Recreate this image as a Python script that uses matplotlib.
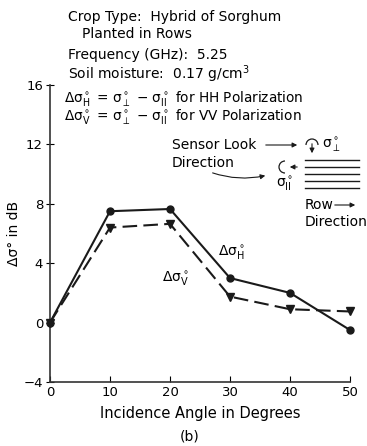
import matplotlib
matplotlib.use("Agg")
import matplotlib.pyplot as plt
from matplotlib.patches import Arc, FancyArrowPatch

plt.rcParams["font.family"] = ["Liberation Sans Narrow", "DejaVu Sans"]
plt.rcParams["mathtext.fontset"] = "dejavusans"

# incidence angle (deg) and backscatter difference (dB)
angles = [0, 10, 20, 30, 40, 50]
delta_hh = [0.0, 7.5, 7.65, 3.0, 2.0, -0.5]
delta_vv = [0.0, 6.4, 6.65, 1.75, 0.9, 0.75]

x_ticks = [0, 10, 20, 30, 40, 50]
y_ticks = [-4, 0, 4, 8, 12, 16]

W, H = 367, 446
fig = plt.figure(figsize=(W / 100, H / 100), dpi=100)
ax = fig.add_axes([50 / W, 1 - 382 / H, 300 / W, 297 / H])


def px(x, y):
    # top-left pixel position -> figure fraction
    return (x / W, 1 - y / H)


ax.plot(angles, delta_hh, "-", color="#1a1a1a", lw=1.5, marker="o", ms=5,
        clip_on=False, zorder=3)
ax.plot(angles, delta_vv, "-", color="#1a1a1a", lw=1.5, marker="v", ms=5.5,
        dashes=(7, 3), clip_on=False, zorder=3)

ax.set_xlim(0, 50)
ax.set_ylim(-4, 16)
ax.set_xticks(x_ticks)
ax.set_yticks(y_ticks)
for s in ("top", "right"):
    ax.spines[s].set_visible(False)
for s in ("left", "bottom"):
    ax.spines[s].set_linewidth(1.2)
    ax.spines[s].set_color("#333333")
ax.tick_params(axis="x", direction="in", length=4, labelsize=9.5, pad=3)
ax.tick_params(axis="y", direction="inout", length=6, labelsize=9.5, pad=2)

ax.set_ylabel("Δσ° in dB", fontsize=10, labelpad=2)
ax.set_xlabel("Incidence Angle in Degrees", fontsize=10.5, labelpad=5)
fig.text(*px(190, 437), "(b)", fontsize=10, ha="center", va="center")

tk = dict(fontsize=10, ha="left", va="center", transform=fig.transFigure)
fig.text(*px(68, 17), "Crop Type:  Hybrid of Sorghum", **tk)
fig.text(*px(82, 34), "Planted in Rows", **tk)
fig.text(*px(68, 55), "Frequency (GHz):  5.25", **tk)
fig.text(*px(68, 74), r"Soil moisture:  0.17 g/cm$^\mathregular{3}$", **tk)
sub_h = r"$_\mathregular{H}^\circ$"
sub_v = r"$_\mathregular{V}^\circ$"
perp = r"$_\perp^\circ$"
par = r"$_\mathregular{II}^\circ$"
sm = dict(tk, fontsize=9.8)
fig.text(*px(64, 98), "Δσ" + sub_h + " = σ" + perp + " − σ" + par
         + " for HH Polarization", **sm)
fig.text(*px(64, 117), "Δσ" + sub_v + " = σ" + perp + " − σ" + par
         + " for VV Polarization", **sm)

# curve labels
fig.text(*px(218, 253), "Δσ" + sub_h, **tk)
fig.text(*px(162, 279), "Δσ" + sub_v, **tk)

# sensor look / row direction sketch
fig.text(*px(172, 145), "Sensor Look", **tk)
fig.text(*px(172, 163), "Direction", **tk)
fig.text(*px(322, 145), "σ" + perp, **tk)
fig.text(*px(276, 184), "σ" + par, **tk)
fig.text(*px(305, 205), "Row", **tk)
fig.text(*px(305, 222), "Direction", **tk)

arr = dict(arrowstyle="-|>", mutation_scale=7, lw=0.8, color="#1a1a1a",
           transform=fig.transFigure)
fig.patches.append(FancyArrowPatch(px(263, 145), px(300, 145), **arr))
fig.patches.append(FancyArrowPatch(px(210, 172), px(268, 175),
                                   connectionstyle="arc3,rad=0.15", **arr))
fig.patches.append(FancyArrowPatch(px(312, 141), px(312, 156), **arr))
fig.patches.append(FancyArrowPatch(px(300, 167), px(287, 167), **arr))
fig.patches.append(FancyArrowPatch(px(332, 205), px(358, 205), **arr))
fig.patches.append(Arc(px(312, 145), 12 / W, 12 / H, theta1=0, theta2=180,
                       lw=0.9, color="#1a1a1a", transform=fig.transFigure))
fig.patches.append(Arc(px(285, 167), 12 / W, 12 / H, theta1=90, theta2=270,
                       lw=0.9, color="#1a1a1a", transform=fig.transFigure))
for yy in [160, 167, 174, 181, 188]:
    fig.add_artist(plt.Line2D([305 / W, 359 / W], [1 - yy / H, 1 - yy / H],
                              lw=1.0, color="#1a1a1a", transform=fig.transFigure))

fig.savefig("out.png", dpi=100)
